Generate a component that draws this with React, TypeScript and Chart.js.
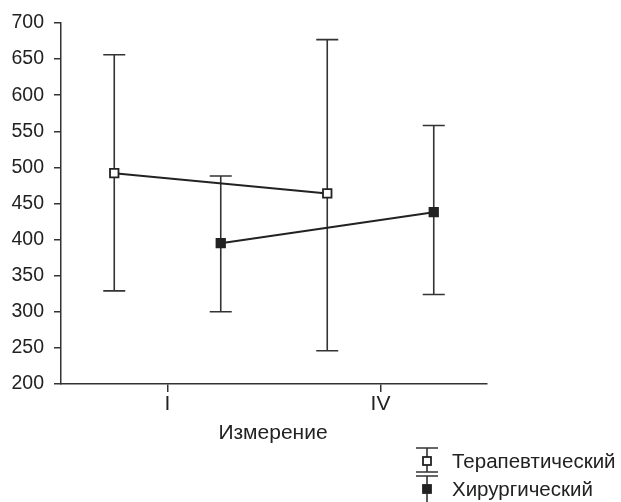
import React, { useEffect, useRef } from "react";
import { Chart, registerables } from "chart.js";

Chart.register(...registerables);

const categories = ["I", "IV"];
const seriesNames = ["Терапевтический", "Хирургический"];
const therapeuticMean = [492, 464];
const therapeuticLow = [329, 246];
const therapeuticHigh = [656, 677];
const surgicalMean = [395, 438];
const surgicalLow = [300, 324];
const surgicalHigh = [488, 558];
const yTicks = [200, 250, 300, 350, 400, 450, 500, 550, 600, 650, 700];
const groupOffset = 0.25;
const xTitle = "Измерение";

const FONT = "'Liberation Sans', Arial, sans-serif";
const INK = "#222";

export default function App() {
  const ref = useRef<HTMLCanvasElement | null>(null);

  useEffect(() => {
    if (!ref.current) return;
    const mk = (means: number[], sign: number) =>
      means.map((v, i) => ({ x: i + 1 + sign * groupOffset, y: v }));

    const bars = [
      { low: therapeuticLow, high: therapeuticHigh, sign: -1 },
      { low: surgicalLow, high: surgicalHigh, sign: 1 },
    ];

    const errorPlugin = {
      id: "errorbars",
      beforeDatasetsDraw(chart: any) {
        const { ctx, scales } = chart;
        const xs = scales.x;
        const ys = scales.y;
        ctx.save();
        ctx.strokeStyle = "#333";
        ctx.lineWidth = 1.6;
        bars.forEach((b) => {
          b.low.forEach((lo, i) => {
            const px = xs.getPixelForValue(i + 1 + b.sign * groupOffset);
            const pl = ys.getPixelForValue(lo);
            const ph = ys.getPixelForValue(b.high[i]);
            ctx.beginPath();
            ctx.moveTo(px, pl);
            ctx.lineTo(px, ph);
            ctx.moveTo(px - 11, pl);
            ctx.lineTo(px + 11, pl);
            ctx.moveTo(px - 11, ph);
            ctx.lineTo(px + 11, ph);
            ctx.stroke();
          });
        });
        ctx.restore();
      },
      afterDraw(chart: any) {
        const { ctx, scales } = chart;
        const xs = scales.x;
        ctx.save();
        ctx.fillStyle = INK;
        ctx.font = `21px ${FONT}`;
        ctx.textAlign = "center";
        ctx.textBaseline = "middle";
        ctx.fillText(xTitle, (xs.left + xs.right) / 2 - 1, 433);

        // legend
        ctx.font = `20.5px ${FONT}`;
        const lx = 427;
        const rows = [461, 489];
        rows.forEach((ry, k) => {
          ctx.strokeStyle = "#333";
          ctx.lineWidth = 1.6;
          ctx.beginPath();
          ctx.moveTo(lx - 11, ry - 13);
          ctx.lineTo(lx + 11, ry - 13);
          ctx.moveTo(lx, ry - 13);
          ctx.lineTo(lx, k === 0 ? ry + 11 : ry + 13);
          if (k === 0) {
            ctx.moveTo(lx - 11, ry + 11);
            ctx.lineTo(lx + 11, ry + 11);
          }
          ctx.stroke();
          ctx.fillStyle = k === 0 ? "#fff" : INK;
          ctx.fillRect(lx - 4, ry - 4, 8, 8);
          ctx.strokeStyle = INK;
          ctx.lineWidth = 1.8;
          ctx.strokeRect(lx - 4, ry - 4, 8, 8);
          ctx.fillStyle = INK;
          ctx.textAlign = "left";
          ctx.fillText(seriesNames[k], 452, ry + 1);
        });
        ctx.restore();
      },
    };

    const chart = new Chart(ref.current, {
      type: "line",
      data: {
        datasets: [
          {
            label: seriesNames[0],
            data: mk(therapeuticMean, -1),
            borderColor: INK,
            borderWidth: 2,
            pointStyle: "rect",
            pointRadius: 6,
            pointBorderWidth: 1.8,
            pointBackgroundColor: "#fff",
            pointBorderColor: INK,
          },
          {
            label: seriesNames[1],
            data: mk(surgicalMean, 1),
            borderColor: INK,
            borderWidth: 2,
            pointStyle: "rect",
            pointRadius: 6,
            pointBorderWidth: 1.8,
            pointBackgroundColor: INK,
            pointBorderColor: INK,
          },
        ],
      },
      options: {
        animation: false,
        responsive: false,
        devicePixelRatio: 1,
        layout: { padding: { top: 23, right: 134, left: 0, bottom: 0 } },
        plugins: { legend: { display: false }, tooltip: { enabled: false } },
        scales: {
          x: {
            type: "linear",
            min: 0.5,
            max: 2.5,
            afterBuildTicks: (s: any) => {
              s.ticks = categories.map((_, i) => ({ value: i + 1 }));
            },
            afterFit: (s: any) => {
              s.height = 118;
            },
            ticks: {
              callback: (v: any) => categories[Number(v) - 1] ?? "",
              font: { family: FONT, size: 21 },
              color: INK,
              padding: 0,
              maxRotation: 0,
              autoSkip: false,
            },
            grid: {
              drawOnChartArea: false,
              drawTicks: true,
              tickLength: 8,
              color: "#333",
              lineWidth: 1.5,
            },
            border: { display: true, color: "#333", width: 1.5 },
          },
          y: {
            min: 200,
            max: 700,
            afterBuildTicks: (s: any) => {
              s.ticks = yTicks.map((v) => ({ value: v }));
            },
            afterFit: (s: any) => {
              s.width = 61;
            },
            ticks: {
              font: { family: FONT, size: 19.5 },
              color: INK,
              padding: 10,
            },
            grid: {
              drawOnChartArea: false,
              drawTicks: true,
              tickLength: 7,
              color: "#333",
              lineWidth: 1.5,
            },
            border: { display: true, color: "#333", width: 1.5 },
          },
        },
      },
      plugins: [errorPlugin],
    });
    return () => chart.destroy();
  }, []);

  return (
    <div style={{ position: "fixed", left: 0, top: 0, width: 621, height: 502, background: "#fff" }}>
      <canvas ref={ref} width={621} height={502} />
    </div>
  );
}
